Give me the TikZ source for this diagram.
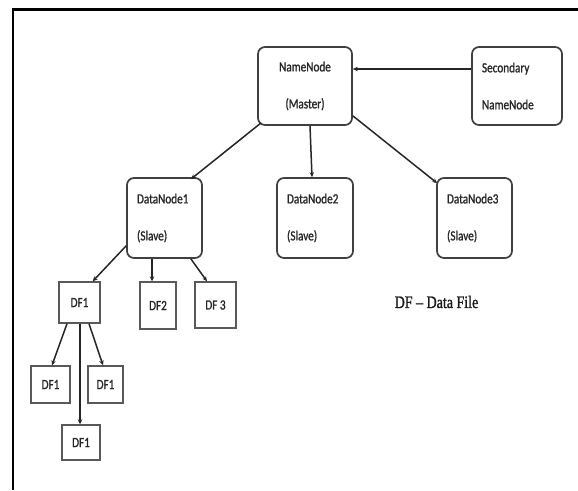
\documentclass[tikz,border=0pt]{standalone}
\usepackage{fontspec}
\setmainfont{Carlito}[FakeStretch=0.8,FakeBold=1.2]
\newfontfamily\legendfont{Liberation Serif}[FakeStretch=0.8,FakeBold=1.2]
\usetikzlibrary{arrows.meta}

\begin{document}
\begin{tikzpicture}[x=1pt,y=-1pt,
    node/.style={draw=black!75,line width=1.7pt,rounded corners=7pt,inner sep=0pt,
      minimum height=80pt,text=black!85,font=\fontsize{14}{17}\selectfont},
    file/.style={draw=black!65,line width=1.4pt,inner sep=0pt,
      text=black!85,font=\fontsize{14}{17}\selectfont},
    arr/.style={-{Stealth[length=5pt,width=4.5pt]},line width=1.5pt,black!85}]

  % Page size and the frame lines
  \useasboundingbox (0,0) rectangle (578,490);
  \draw[line width=2.2pt] (578,9.5) -- (13,9.5) -- (13,490);

  % Master and secondary
  \node[node,minimum width=94pt,minimum height=78pt,align=center] (nn) at (305,86) {NameNode\\[20pt](Master)};
  \node[node,minimum width=90pt,minimum height=78pt,text width=70pt,align=left] (snn) at (517,86) {Secondary\\[20pt]NameNode};

  % Slaves
  \node[node,minimum width=75pt,text width=55pt,align=left] (dn1) at (164.5,218) {DataNode1\\[20pt](Slave)};
  \node[node,minimum width=76pt,text width=56pt,align=left] (dn2) at (315,218) {DataNode2\\[20pt](Slave)};
  \node[node,minimum width=75pt,text width=55pt,align=left] (dn3) at (474.5,218) {DataNode3\\[20pt](Slave)};

  % Data files
  \node[file,minimum width=41pt,minimum height=41pt] (df1) at (79.5,302.5) {DF1};
  \node[file,minimum width=36pt,minimum height=47pt] (df2) at (158,305.5) {DF2};
  \node[file,minimum width=41pt,minimum height=46pt] (df3) at (215.5,305) {DF 3};
  \node[file,minimum width=39pt,minimum height=37pt] (df1a) at (50.5,384.5) {DF1};
  \node[file,minimum width=35pt,minimum height=37pt] (df1b) at (105.5,384.5) {DF1};
  \node[file,minimum width=38pt,minimum height=35pt] (df1c) at (81,442.5) {DF1};

  % Legend
  \node[text=black!90,font=\legendfont\fontsize{17.5}{20}\selectfont] (key) at (436.5,302) {DF – Data File};

  % Arrows
  \draw[arr] ([yshift=17pt]snn.west) -- ([yshift=17pt]nn.east);
  \draw[arr] ([xshift=4pt,yshift=3pt]nn.south west) -- ([xshift=-12pt,yshift=-2pt]dn1.north east);
  \draw[arr] ([xshift=5pt]nn.south) -- ([xshift=-3pt]dn2.north);
  \draw[arr] ([yshift=10pt]nn.south east) -- ([xshift=1pt,yshift=-6pt]dn3.north west);
  \draw[arr] ([yshift=13pt]dn1.south west) -- ([xshift=-8pt]df1.north east);
  \draw[arr] ([xshift=-12.5pt]dn1.south) -- ([xshift=-6pt]df2.north);
  \draw[arr] ([xshift=-12pt]dn1.south east) -- ([xshift=-8.5pt]df3.north);
  \draw[arr] ([xshift=-12.5pt]df1.south) -- ([xshift=1.5pt]df1a.north);
  \draw[arr] ([xshift=0.5pt]df1.south) -- ([xshift=-1pt]df1c.north);
  \draw[arr] ([xshift=9.5pt]df1.south) -- ([xshift=-2.5pt]df1b.north);

\end{tikzpicture}
\end{document}
